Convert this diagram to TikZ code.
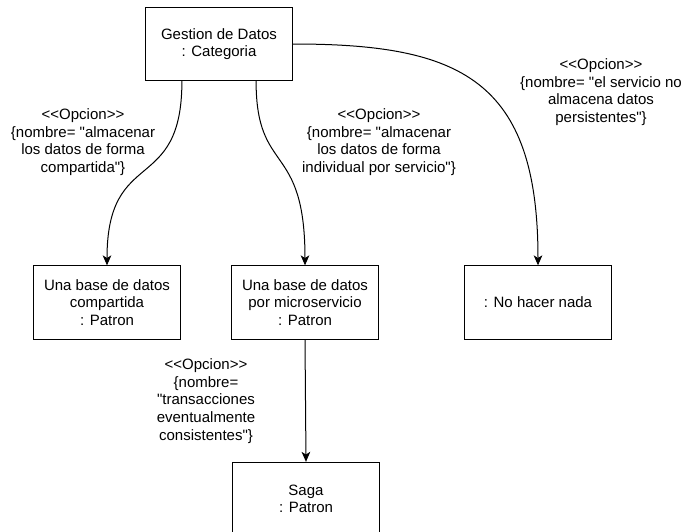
\documentclass[tikz,border=0pt]{standalone}
\usepackage{fontspec}
\setmainfont{Liberation Sans}[Ligatures=TeXOff]
\usetikzlibrary{arrows.meta,calc}

\begin{document}
\begin{tikzpicture}[x=0.75pt,y=-0.75pt,
  txt/.style={font=\fontsize{11.25}{13.2}\selectfont, text=black},
  box/.style={txt, draw=black, line width=0.75pt, fill=white, align=center,
    minimum width=110.5pt, minimum height=55pt, inner sep=0pt},
  lbl/.style={txt, align=center, inner sep=0pt},
  link/.style={draw=black, line width=0.75pt,
    -{Stealth[length=7.5pt,width=6.5pt,inset=2pt]}}]

\useasboundingbox (0,0) rectangle (682,532);

% category and patterns
\node[box] (cat) at (219,44) {Gestion de Datos\\: Categoria};
\node[box] (shared) at (107,302.5) {Una base de datos\\compartida\\: Patron};
\node[box] (permicro) at (305,302.5) {Una base de datos\\por microservicio\\: Patron};
\node[box] (none) at (538,302.5) {: No hacer nada};
\node[box] (saga) at (306,499) {Saga\\: Patron};

% option labels
\node[lbl] (optA) at (83,142) {<<Opcion>>\\\{nombre= "almacenar\\los datos de forma\\compartida"\}};
\node[lbl] (optB) at (379,142) {<<Opcion>>\\\{nombre= "almacenar\\los datos de forma\\individual por servicio"\}};
\node[lbl] (optC) at (601,92) {<<Opcion>>\\\{nombre= "el servicio no\\almacena datos\\persistentes"\}};
\node[lbl] (optD) at (206,401) {<<Opcion>>\\\{nombre=\\"transacciones\\eventualmente\\consistentes"\}};

% exits on the bottom side of the category box
\coordinate (catL) at ($(cat.south west)!0.25!(cat.south east)$);
\coordinate (catR) at ($(cat.south west)!0.75!(cat.south east)$);

% connectors
\draw[link] (catL) .. controls +(0,115) and +(0,-120) .. (shared.north);
\draw[link] (catR) .. controls +(0,95) and +(0,-125) .. (permicro.north);
\draw[link] (cat.east) .. controls +(167,0) and +(0,-186) .. (none.north);
\draw[link] (permicro.south) -- (saga.north);
\end{tikzpicture}
\end{document}
